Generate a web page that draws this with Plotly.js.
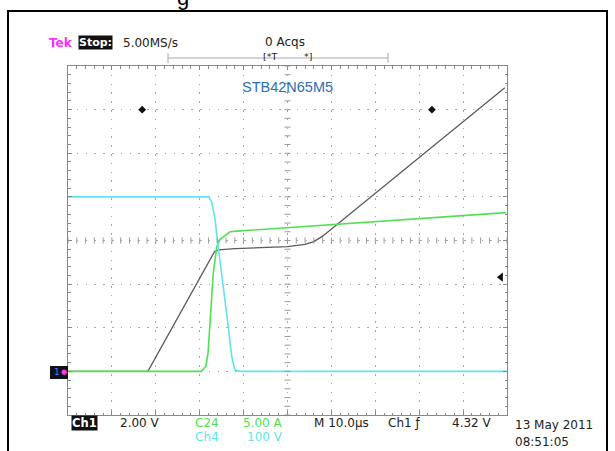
<!DOCTYPE html>
<html>
<head>
<meta charset="utf-8">
<script src="https://cdn.plot.ly/plotly-3.0.1.min.js"></script>
<style>
  html, body { margin: 0; padding: 0; background: #fff; }
  #scope { width: 615px; height: 451px; }
</style>
</head>
<body>
<div id="scope"></div>
<script>
// Time base: 10 µs/div, trigger at screen centre (t = 0)
// Ch1 gate voltage (2.00 V/div)
const ch1Time = [-50, -31.8, -16.6, -15.6, -12, -5, 0, 4, 6, 8, 49.5];
const ch1Volts = [0, 0, 5.5, 5.57, 5.63, 5.68, 5.72, 5.82, 5.95, 6.2, 13.0];

// C2 drain current (5.00 A/div)
const c2Time = [-50, -19.6, -18.6, -18.1, -17.5, -16.9, -16.1, -15.4, -13.1, -10.8, 49.8];
const c2Amps = [0, 0, 0.6, 2.1, 6.7, 11.3, 14.3, 15.1, 16.0, 16.1, 18.2];

// Ch4 drain voltage (100 V/div)
const ch4Time = [-50, -18.0, -17.3, -16.5, -15.8, -14.6, -13.5, -12.7, -12.0, -10.8, 50];
const ch4Volts = [400, 400, 390, 348, 287, 195, 103, 34, 3, 0, 0];

// Readout values
const triggerLevel = 4.32;          // V on Ch1
const refMarkTime = [-33.1, 32.9];  // reference markers, µs
const refMarkVolts = [12, 12];

// Plot rectangle in page pixels
const W = 615, H = 451, L = 68, R = 507, T = 66, B = 415;
const px = x => (x - L) / (R - L);
const py = y => (B - y) / (B - T);

const dark = '#222';
const green = '#52e052';
const cyan = '#62e4ee';
const gridCol = '#a8a8a8';
const borderCol = '#888';
const mono = 'DejaVu Sans';

const traces = [
  { x: ch4Time, y: ch4Volts, yaxis: 'y3', mode: 'lines', name: 'Ch4',
    line: { color: cyan, width: 1.6 }, hoverinfo: 'skip' },
  { x: c2Time, y: c2Amps, yaxis: 'y2', mode: 'lines', name: 'C2',
    line: { color: green, width: 1.6 }, hoverinfo: 'skip' },
  { x: ch1Time, y: ch1Volts, yaxis: 'y', mode: 'lines', name: 'Ch1',
    line: { color: '#5a5a5a', width: 1.3 }, hoverinfo: 'skip' },
  { x: refMarkTime, y: refMarkVolts, yaxis: 'y', mode: 'markers',
    marker: { symbol: 'diamond', size: 6, color: '#111' }, hoverinfo: 'skip' },
  { x: [48.6], y: [triggerLevel], yaxis: 'y', mode: 'markers',
    marker: { symbol: 'triangle-left', size: 8, color: '#111' }, hoverinfo: 'skip' }
];

const axisStyle = {
  showgrid: true, gridcolor: gridCol, gridwidth: 1,
  zeroline: false, showticklabels: false,
  showline: true, linecolor: borderCol, linewidth: 1, mirror: 'ticks',
  ticks: 'inside', ticklen: 4, tickcolor: borderCol, tickwidth: 1,
  fixedrange: true
};

const shapes = [];
// graticule ticks along the centre cross
for (let i = -25; i <= 25; i++) {
  shapes.push({ type: 'line', xref: 'x', yref: 'y', ysizemode: 'pixel', yanchor: 6,
    x0: i * 2, x1: i * 2, y0: -3, y1: 3, line: { color: '#999', width: 1 } });
}
for (let i = -20; i <= 20; i++) {
  shapes.push({ type: 'line', xref: 'x', yref: 'y', xsizemode: 'pixel', xanchor: 0,
    x0: -3, x1: 3, y0: 6 + i * 0.4, y1: 6 + i * 0.4, line: { color: '#999', width: 1 } });
}
// outer frame
shapes.push({ type: 'rect', xref: 'paper', yref: 'paper',
  x0: px(8), x1: px(607), y0: py(470), y1: py(11),
  line: { color: '#000', width: 2 }, fillcolor: 'rgba(0,0,0,0)' });
// record-length bar
shapes.push({ type: 'line', xref: 'paper', yref: 'paper',
  x0: px(168), x1: px(388), y0: py(58), y1: py(58), line: { color: '#aaa', width: 1 } });
shapes.push({ type: 'line', xref: 'paper', yref: 'paper',
  x0: px(168), x1: px(168), y0: py(53), y1: py(63), line: { color: '#aaa', width: 1 } });
shapes.push({ type: 'line', xref: 'paper', yref: 'paper',
  x0: px(388), x1: px(388), y0: py(53), y1: py(63), line: { color: '#aaa', width: 1 } });
// Ch1 ground marker box
shapes.push({ type: 'rect', xref: 'paper', yref: 'paper',
  x0: px(50), x1: px(68), y0: py(379), y1: py(366),
  line: { width: 0 }, fillcolor: '#111' });

function label(text, x, y, opts) {
  opts = opts || {};
  return Object.assign({
    text: text, xref: 'paper', yref: 'paper', x: px(x), y: py(y),
    xanchor: 'left', yanchor: 'middle', showarrow: false,
    font: { family: mono, size: 12, color: dark }
  }, opts);
}

const annotations = [
  label('g', 175, -2, { font: { family: 'Liberation Sans', size: 22, color: '#000' } }),
  label('<b>Tek</b>', 47, 43, { font: { family: mono, size: 12, color: '#ff2bff' } }),
  label('<b>Stop:</b>', 78, 43, { bgcolor: '#111', borderpad: 0,
    font: { family: mono, size: 11, color: '#fff' } }),
  label('5.00MS/s', 121, 43),
  label('0 Acqs', 263, 42),
  label('[*T', 261, 56, { font: { family: mono, size: 9.5, color: dark } }),
  label('*]', 302, 56, { font: { family: mono, size: 9.5, color: dark } }),
  label('STB42N65M5', 287.5, 87, { xanchor: 'center',
    font: { family: 'Liberation Sans', size: 14.5, color: '#2e6db4' } }),
  label('1', 52, 372, { font: { family: mono, size: 9, color: '#4a7dff' } }),
  label('●', 59, 372, { font: { family: mono, size: 7, color: '#ff33ff' } }),
  label('<b>Ch1</b>', 71, 423, { bgcolor: '#111', borderpad: 0,
    font: { family: mono, size: 11.5, color: '#fff' } }),
  label('2.00 V', 118, 423),
  label('C24', 193, 423, { font: { family: mono, size: 12, color: green } }),
  label('5.00 A', 285, 423, { xanchor: 'right', font: { family: mono, size: 12, color: green } }),
  label('Ch4', 193, 437, { font: { family: mono, size: 12, color: cyan } }),
  label('100 V', 285, 437, { xanchor: 'right', font: { family: mono, size: 12, color: cyan } }),
  label('M 10.0µs', 312, 423),
  label('Ch1 ƒ', 386, 423),
  label(triggerLevel.toFixed(2) + ' V', 494, 423, { xanchor: 'right' }),
  label('13 May 2011', 513, 425),
  label('08:51:05', 513, 442)
];

const layout = {
  width: W, height: H,
  margin: { l: L, r: W - R, t: T, b: H - B, pad: 0 },
  paper_bgcolor: '#fff', plot_bgcolor: '#fff',
  showlegend: false,
  xaxis: Object.assign({}, axisStyle, { range: [-50, 50], dtick: 10, tick0: 0,
    griddash: '1.5px,7.3px',
    minor: { dtick: 2, ticks: 'inside', ticklen: 2.5, tickcolor: borderCol, showgrid: false } }),
  yaxis: Object.assign({}, axisStyle, { range: [-2, 14], dtick: 2, tick0: 0,
    griddash: '1.5px,7.3px',
    minor: { dtick: 0.4, ticks: 'inside', ticklen: 2.5, tickcolor: borderCol, showgrid: false } }),
  yaxis2: { overlaying: 'y', range: [-5, 35], visible: false, fixedrange: true },
  yaxis3: { overlaying: 'y', range: [-100, 700], visible: false, fixedrange: true },
  shapes: shapes,
  annotations: annotations
};

Plotly.newPlot('scope', traces, layout, { staticPlot: true, displayModeBar: false });
</script>
</body>
</html>
